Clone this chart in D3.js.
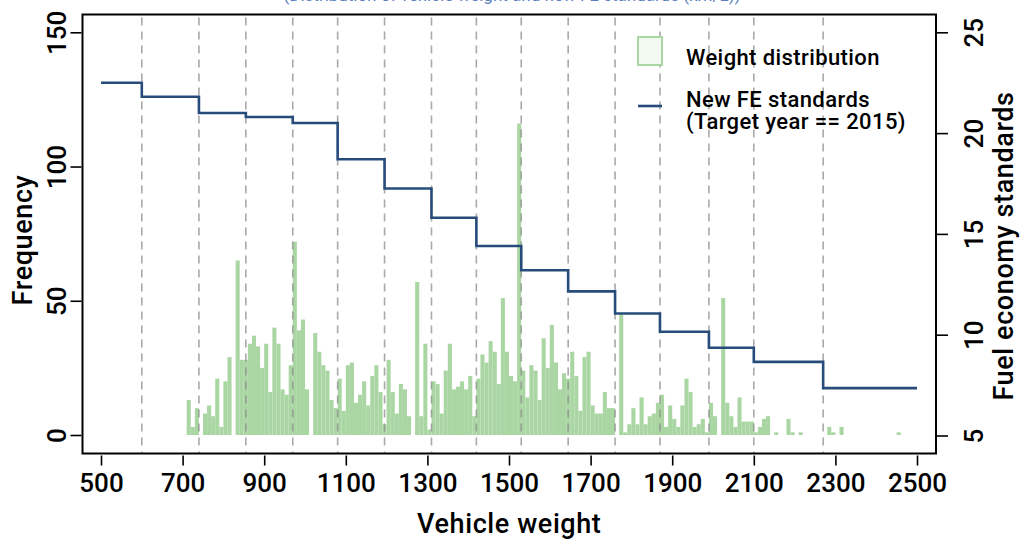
<!DOCTYPE html>
<html>
<head>
<meta charset="utf-8">
<script src="https://cdn.jsdelivr.net/npm/d3@7/dist/d3.min.js"></script>
<style>
  body { margin: 0; background: #fff; }
  svg { display: block; font-family: Roboto, "DejaVu Sans", sans-serif; font-weight: 500; }
</style>
</head>
<body>
<svg width="1022" height="539"></svg>
<script>
// histogram of vehicle weight: 10 kg bins starting at 710
var binStart = 710, binWidth = 10;
var frequency = [
  13, 3, 10, 0, 8, 11, 7, 21, 3, 20,
  29, 0, 65, 28, 28, 34, 37, 33, 25, 34,
  16, 40, 34, 17, 15, 26, 72, 39, 43, 17,
  0, 38, 31, 26, 24, 13, 10, 21, 9, 26,
  27, 12, 15, 20, 11, 22, 26, 16, 4, 28,
  16, 8, 19, 17, 7, 0, 57, 7, 34, 2,
  20, 19, 8, 24, 34, 17, 18, 20, 17, 22,
  7, 21, 30, 27, 35, 31, 19, 51, 31, 22,
  20, 116, 24, 14, 26, 24, 13, 36, 25, 41,
  27, 17, 23, 21, 31, 22, 9, 29, 31, 11,
  8, 8, 16, 10, 10, 0, 45, 1, 4, 10,
  4, 14, 4, 7, 8, 12, 15, 3, 11, 6,
  3, 11, 21, 16, 3, 4, 6, 1, 12, 7,
  0, 51, 12, 7, 3, 14, 5, 5, 5, 1,
  3, 6, 7, 0, 1, 0, 0, 6, 1, 0,
  1, 0, 0, 0, 0, 0, 0, 3, 1, 0,
  3, 0, 0, 0, 0, 0, 0, 0, 0, 0,
  0, 0, 0, 0, 1
];

// fuel economy standard (target year 2015) by weight class
var classBreaks = [500, 600, 740, 855, 970, 1080, 1195, 1310, 1420, 1530, 1645, 1760, 1870, 1990, 2100, 2270, 2500];
var feStandard = [22.5, 21.8, 21.0, 20.8, 20.5, 18.7, 17.25, 15.8, 14.4, 13.2, 12.15, 11.05, 10.15, 9.35, 8.65, 7.35];

var xTicks = [500, 700, 900, 1100, 1300, 1500, 1700, 1900, 2100, 2300, 2500];
var yLeftTicks = [0, 50, 100, 150];
var yRightTicks = [5, 10, 15, 20, 25];

var svg = d3.select("svg");
var frame = {left: 82.5, top: 14.5, right: 936, bottom: 453.5};

var x = d3.scaleLinear().domain([500, 2500]).range([101, 917]);
var yL = d3.scaleLinear().domain([0, 150]).range([435, 32.3]);
var yR = d3.scaleLinear().domain([5, 25]).range([435.5, 32.3]);

var green = "#a9d6a2";

// title (mostly cut off at the top edge)
svg.append("text")
    .attr("x", 512).attr("y", 1)
    .attr("text-anchor", "middle")
    .attr("font-size", 17)
    .attr("font-weight", 400)
    .attr("fill", "#5a7fc0")
    .text("(Distribution of vehicle weight and new FE standards (km/L))");

// bars
svg.append("g")
  .selectAll("rect")
  .data(frequency)
  .enter().append("rect")
    .attr("x", function(d, i) { return x(binStart + i * binWidth); })
    .attr("width", function(d, i) { return x(binStart + (i + 1) * binWidth) - x(binStart + i * binWidth); })
    .attr("y", function(d) { return yL(d); })
    .attr("height", function(d) { return yL(0) - yL(d); })
    .attr("fill", green);

// dashed class boundaries
svg.append("g")
  .selectAll("line")
  .data(classBreaks.slice(1, -1))
  .enter().append("line")
    .attr("x1", d => x(d)).attr("x2", d => x(d))
    .attr("y1", frame.top + 3).attr("y2", frame.bottom)
    .attr("stroke", "#8c8c8c")
    .attr("stroke-opacity", 0.75)
    .attr("stroke-width", 1.6)
    .attr("stroke-dasharray", "8,6");

// step line
var stepPts = feStandard.map(function(v, i) { return [classBreaks[i], v]; });
stepPts.push([classBreaks[classBreaks.length - 1], feStandard[feStandard.length - 1]]);
svg.append("path")
    .datum(stepPts)
    .attr("fill", "none")
    .attr("stroke", "#274c7b")
    .attr("stroke-width", 2.6)
    .attr("d", d3.line()
        .x(d => x(d[0]))
        .y(d => yR(d[1]))
        .curve(d3.curveStepAfter));

// frame
svg.append("rect")
    .attr("x", frame.left).attr("y", frame.top)
    .attr("width", frame.right - frame.left)
    .attr("height", frame.bottom - frame.top)
    .attr("fill", "none")
    .attr("stroke", "#000")
    .attr("stroke-width", 2);

// x axis
var xAxis = svg.append("g")
    .attr("transform", "translate(0," + frame.bottom + ")")
    .call(d3.axisBottom(x).tickValues(xTicks).tickSize(12).tickSizeOuter(0).tickPadding(8).tickFormat(d3.format("d")));
xAxis.select(".domain").remove();
xAxis.selectAll("line").attr("stroke", "#000").attr("stroke-width", 1.6).attr("y1", 2);
xAxis.selectAll("text").attr("font-size", 26).attr("fill", "#000").attr("font-family", "Roboto").attr("font-weight", 500);

// left axis
var lAxis = svg.append("g")
    .attr("transform", "translate(" + frame.left + ",0)")
    .call(d3.axisLeft(yL).tickValues(yLeftTicks).tickSize(12).tickSizeOuter(0));
lAxis.select(".domain").remove();
lAxis.selectAll("line").attr("stroke", "#000").attr("stroke-width", 1.6).attr("x1", -1);
lAxis.selectAll("text")
    .attr("font-size", 26).attr("fill", "#000").attr("font-family", "Roboto").attr("font-weight", 500)
    .attr("x", null).attr("dy", null)
    .attr("text-anchor", "middle")
    .attr("transform", "translate(-17,0) rotate(-90)");

// right axis
var rAxis = svg.append("g")
    .attr("transform", "translate(" + frame.right + ",0)")
    .call(d3.axisRight(yR).tickValues(yRightTicks).tickSize(12).tickSizeOuter(0));
rAxis.select(".domain").remove();
rAxis.selectAll("line").attr("stroke", "#000").attr("stroke-width", 1.6).attr("x1", 1);
rAxis.selectAll("text")
    .attr("font-size", 26).attr("fill", "#000").attr("font-family", "Roboto").attr("font-weight", 500)
    .attr("x", null).attr("dy", null)
    .attr("text-anchor", "middle")
    .attr("transform", "translate(47,0) rotate(-90)");

// axis titles
svg.append("text")
    .attr("x", (frame.left + frame.right) / 2).attr("y", 533)
    .attr("text-anchor", "middle")
    .attr("font-size", 27)
    .attr("letter-spacing", 0.6)
    .text("Vehicle weight");

svg.append("text")
    .attr("transform", "translate(32," + ((frame.top + frame.bottom) / 2 + 6) + ") rotate(-90)")
    .attr("text-anchor", "middle")
    .attr("font-size", 27)
    .attr("letter-spacing", 0.6)
    .text("Frequency");

svg.append("text")
    .attr("transform", "translate(1013," + ((frame.top + frame.bottom) / 2 + 12) + ") rotate(-90)")
    .attr("text-anchor", "middle")
    .attr("font-size", 27)
    .attr("letter-spacing", 0.6)
    .text("Fuel economy standards");

// legend
var legend = svg.append("g").attr("font-size", 22).attr("letter-spacing", 0.4);
legend.append("rect")
    .attr("x", 638).attr("y", 37).attr("width", 24).attr("height", 28)
    .attr("fill", "#f2f9f1").attr("stroke", green).attr("stroke-width", 2);
legend.append("text")
    .attr("x", 686).attr("y", 65)
    .text("Weight distribution");
legend.append("line")
    .attr("x1", 638).attr("x2", 662).attr("y1", 106).attr("y2", 106)
    .attr("stroke", "#274c7b").attr("stroke-width", 2.6);
legend.append("text")
    .attr("x", 686).attr("y", 107)
    .text("New FE standards");
legend.append("text")
    .attr("x", 686).attr("y", 129)
    .text("(Target year == 2015)");
</script>
</body>
</html>
